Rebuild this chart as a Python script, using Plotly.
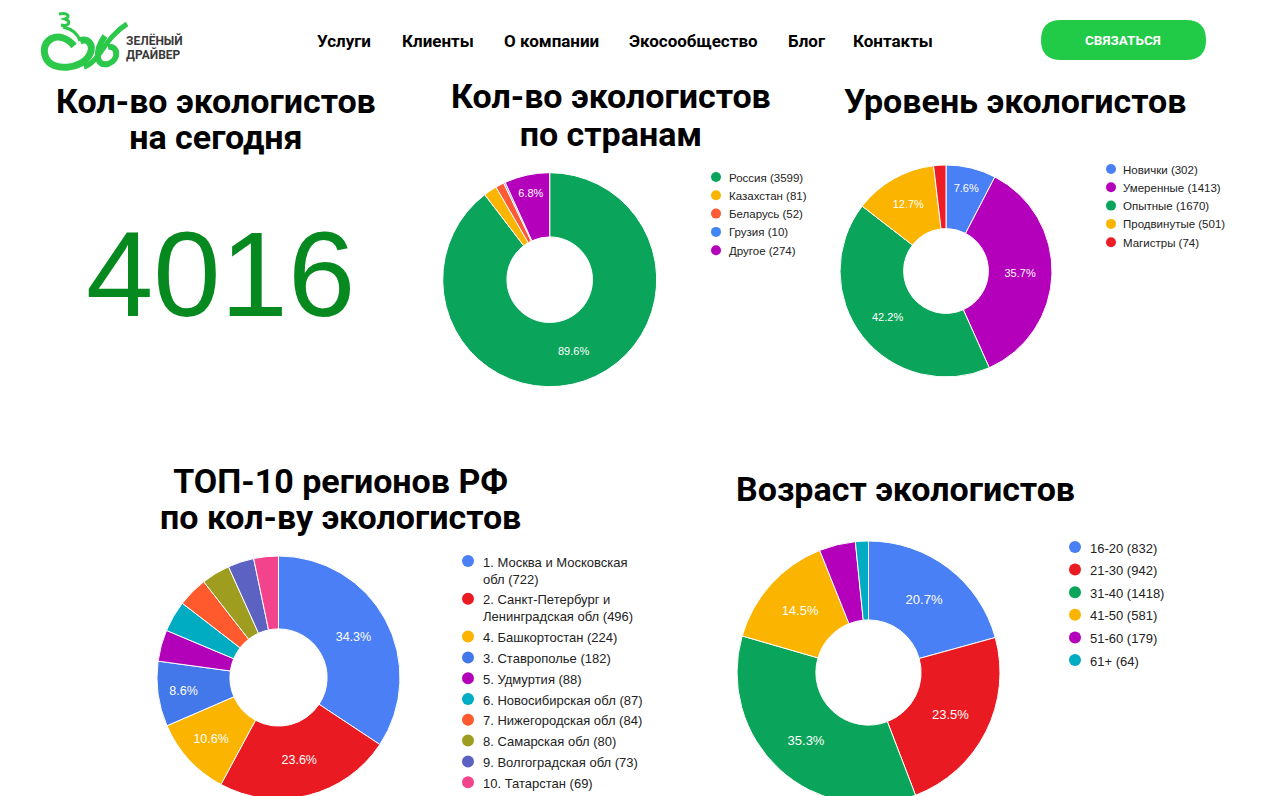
import plotly.graph_objects as go

# the page body adds an 8px margin, so layout pixels are shifted by it
OX, OY = 8, 8
W, H = 1257, 800

# ---------------- data ----------------
total_today = 4016

country_labels = ["Россия", "Казахстан", "Беларусь", "Грузия", "Другое"]
country_values = [3599, 81, 52, 10, 274]
country_colors = ["#0AA55A", "#FBB400", "#FF5A36", "#4285F4", "#B400BB"]

level_labels = ["Новички", "Умеренные", "Опытные", "Продвинутые", "Магистры"]
level_values = [302, 1413, 1670, 501, 74]
level_colors = ["#4A80F5", "#B400BB", "#0AA55A", "#FBB400", "#EE1C25"]

region_labels = ["1. Москва и Московская<br>обл", "2. Санкт-Петербург и<br>Ленинградская обл",
                 "4. Башкортостан", "3. Ставрополье", "5. Удмуртия", "6. Новосибирская обл",
                 "7. Нижегородская обл", "8. Самарская обл", "9. Волгоградская обл", "10. Татарстан"]
region_values = [722, 496, 224, 182, 88, 87, 84, 80, 73, 69]
region_colors = ["#4A7FF5", "#EA1A22", "#FBB400", "#4278EA", "#B300B9", "#00ACC1",
                 "#FF5A2E", "#9E9D1F", "#5C62C2", "#F2438C"]

age_labels = ["16-20", "21-30", "31-40", "41-50", "51-60", "61+"]
age_values = [832, 942, 1418, 581, 179, 64]
age_colors = ["#4A80F5", "#EA1A22", "#0AA55A", "#FBB400", "#B400BB", "#00ACC1"]

nav_items = ["Услуги", "Клиенты", "О компании", "Экосообщество", "Блог", "Контакты"]

titles = [
    ["Кол-во экологистов", "на сегодня"],
    ["Кол-во экологистов", "по странам"],
    ["Уровень экологистов"],
    ["ТОП-10 регионов РФ", "по кол-ву экологистов"],
    ["Возраст экологистов"],
]


# ---------------- helpers ----------------
def px(x):
    return (x - OX) / W


def py(y):
    return 1 - (y - OY) / H


fig = go.Figure()


def add_donut(labels, values, colors, cx, cy, r, fsize):
    tot = sum(values)
    tmpl = ["%{percent:.1%}" if v / tot >= 0.05 else "" for v in values]
    fig.add_trace(go.Pie(
        labels=[l.replace("<br>", " ") for l in labels], values=values,
        marker=dict(colors=colors, line=dict(color="white", width=1)),
        hole=0.4, sort=False, direction="clockwise", rotation=0,
        texttemplate=tmpl, textposition="inside", insidetextorientation="horizontal",
        textfont=dict(color="white", size=fsize, family="Liberation Sans, Arial"),
        showlegend=False, hoverinfo="label+value+percent",
        domain=dict(x=[px(cx - r), px(cx + r)], y=[py(cy + r), py(cy - r)]),
    ))


add_donut(country_labels, country_values, country_colors, 549.7, 279.7, 107, 11)
add_donut(level_labels, level_values, level_colors, 946, 271, 106, 11)
add_donut(region_labels, region_values, region_colors, 278.5, 677.5, 121.5, 12.5)
add_donut(age_labels, age_values, age_colors, 868.5, 672.5, 131.5, 13)

annotations = []
shapes = []


def text(x, y, s, size, color="black", bold=False, family="Roboto", xanchor="center"):
    annotations.append(dict(
        x=px(x), y=py(y), xref="paper", yref="paper", text=s, showarrow=False,
        xanchor=xanchor, yanchor="middle",
        font=dict(size=size, color=color, family=family, weight="bold" if bold else "normal"),
    ))


def title(x, y_first, lines, size, line_gap):
    # line_gap px between baselines: base font sets the line step (1.3em), spans set glyph size
    base = line_gap / 1.3
    body = "<br>".join(f"<span style='font-size:{size}px'>{ln}</span>" for ln in lines)
    yc = y_first + line_gap * (len(lines) - 1) / 2
    text(x, yc, body, base if len(lines) > 1 else size, bold=True)


def add_legend(labels, values, colors, xdot, xtext, y0, step, line_h, size, dot_r):
    y = y0
    for lab, v, c in zip(labels, values, colors):
        shapes.append(dict(type="circle", xref="paper", yref="paper",
                           x0=px(xdot - dot_r), x1=px(xdot + dot_r),
                           y0=py(y + dot_r), y1=py(y - dot_r),
                           fillcolor=c, line=dict(width=0)))
        s = f"{lab} ({v})"
        nlines = s.count("<br>") + 1
        annotations.append(dict(
            x=px(xtext), y=py(y - size * 0.65), xref="paper", yref="paper", text=s,
            showarrow=False, xanchor="left", yanchor="top", align="left",
            font=dict(size=size, color="#222222", family="Liberation Sans, Arial"),
        ))
        y += step + (nlines - 1) * line_h


add_legend(country_labels, country_values, country_colors, 716, 727, 177, 18.3, 0, 11.5, 5)
add_legend(level_labels, level_values, level_colors, 1111, 1121, 169, 18.3, 0, 11.5, 5)
add_legend(region_labels, region_values, region_colors, 468, 481, 561, 20.8, 17, 13, 6)
add_legend(age_labels, age_values, age_colors, 1075, 1088, 547, 22.6, 0, 13, 6)

# titles
TS = 34
title_pos = [(216, 101, 36), (611, 96, 38), (1015, 101, 36), (340, 481, 36), (905, 489, 36)]
for (tx, ty, gap), lines in zip(title_pos, titles):
    title(tx, ty, lines, TS, gap)

# big number
text(220, 274, str(total_today), 121, color="#06891E", family="Liberation Sans, Arial")

# nav
nav_x = [344, 438, 551, 693, 807, 893]
for nx, item in zip(nav_x, nav_items):
    text(nx, 41, item, 17, bold=True)

# button
bx0, bx1, by0, by1, br = 1041, 1206, 20, 60, 20
path = (f"M {px(bx0 + br)},{py(by0)} L {px(bx1 - br)},{py(by0)} "
        f"Q {px(bx1)},{py(by0)} {px(bx1)},{py((by0 + by1) / 2)} "
        f"Q {px(bx1)},{py(by1)} {px(bx1 - br)},{py(by1)} "
        f"L {px(bx0 + br)},{py(by1)} "
        f"Q {px(bx0)},{py(by1)} {px(bx0)},{py((by0 + by1) / 2)} "
        f"Q {px(bx0)},{py(by0)} {px(bx0 + br)},{py(by0)} Z")
shapes.append(dict(type="path", xref="paper", yref="paper", path=path,
                   fillcolor="#21CB47", line=dict(width=0)))
text(1123, 40, "СВЯЗАТЬСЯ", 13.5, color="white", bold=True)


# logo (approximate swirl)
def pth(pts_cmds):
    out = []
    for tok in pts_cmds:
        if isinstance(tok, str):
            out.append(tok)
        else:
            out.append(f"{px(tok[0])},{py(tok[1])}")
    return " ".join(out)


logo_green = "#2CC84A"
logo_paths = [
    (["M", (74, 46), "C", (60, 28), (38, 40), (46, 58), "C", (52, 72), (82, 70), (90, 54),
      "C", (94, 45), (88, 37), (80, 41)], 7),
    (["M", (84, 67), "C", (100, 62), (104, 38), (127, 24)], 5),
    (["M", (105, 36), "C", (95, 50), (95, 67), (108, 64), "C", (120, 60), (118, 45), (108, 47)], 6),
    (["M", (59, 14), "C", (68, 12), (71, 17), (65, 19), "C", (72, 21), (69, 27), (61, 25)], 3),
    (["M", (63, 27), "C", (72, 29), (78, 34), (80, 41)], 3),
]
for lp, lw in logo_paths:
    shapes.append(dict(type="path", xref="paper", yref="paper", path=pth(lp),
                       line=dict(color=logo_green, width=lw)))
text(124, 40, "ЗЕЛЁНЫЙ", 12, color="#3A3A3A", bold=True, xanchor="left")
text(124, 54, "ДРАЙВЕР", 12, color="#3A3A3A", bold=True, xanchor="left")

fig.update_layout(
    width=W, height=H, margin=dict(l=0, r=0, t=0, b=0),
    paper_bgcolor="white", plot_bgcolor="white",
    annotations=annotations, shapes=shapes, showlegend=False,
)

fig.write_html("out.html", config={"displayModeBar": False})
